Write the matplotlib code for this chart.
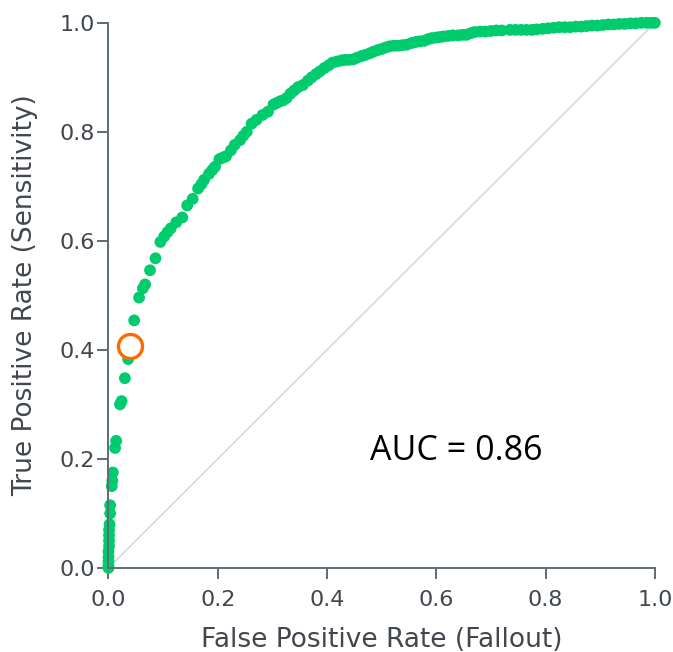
import matplotlib
matplotlib.use("Agg")
import matplotlib.pyplot as plt

# ROC curve points
fpr = [0.0, 0.0, 0.0, 0.0, 0.0, 0.001, 0.001, 0.001, 0.001, 0.002,
       0.003, 0.003, 0.006, 0.007, 0.008, 0.012, 0.014, 0.021, 0.024, 0.030, 0.036,
       0.047, 0.056, 0.063, 0.067, 0.076, 0.086, 0.095, 0.102, 0.108, 0.114, 0.124,
       0.135, 0.144, 0.154, 0.164, 0.170, 0.175, 0.184, 0.190, 0.195, 0.203, 0.210,
       0.215, 0.224, 0.231, 0.241, 0.247, 0.253, 0.262, 0.271, 0.282, 0.292, 0.302,
       0.308, 0.314, 0.320, 0.326, 0.333, 0.340, 0.347, 0.356, 0.365, 0.372, 0.380,
       0.387, 0.395, 0.403, 0.410, 0.418, 0.426, 0.433, 0.440, 0.448, 0.455, 0.463,
       0.470, 0.478, 0.485, 0.493, 0.500, 0.508, 0.515, 0.523, 0.530, 0.538, 0.546,
       0.555, 0.563, 0.570, 0.578, 0.585, 0.592, 0.600, 0.607, 0.613, 0.622, 0.630,
       0.640, 0.648, 0.655, 0.663, 0.670, 0.680, 0.690, 0.700, 0.710, 0.720, 0.735,
       0.745, 0.755, 0.765, 0.775, 0.784, 0.795, 0.805, 0.815, 0.825, 0.835, 0.845,
       0.855, 0.865, 0.875, 0.885, 0.895, 0.905, 0.915, 0.925, 0.935, 0.945, 0.955,
       0.965, 0.975, 0.985, 0.993, 1.0]
tpr = [0.0, 0.005, 0.012, 0.02, 0.03, 0.04, 0.05, 0.06, 0.07, 0.08,
       0.10, 0.115, 0.15, 0.16, 0.175, 0.22, 0.233, 0.30, 0.306, 0.348, 0.383,
       0.454, 0.496, 0.513, 0.520, 0.546, 0.568, 0.598, 0.608, 0.616, 0.623, 0.634,
       0.643, 0.665, 0.677, 0.696, 0.704, 0.712, 0.723, 0.730, 0.736, 0.750, 0.753,
       0.755, 0.766, 0.776, 0.785, 0.793, 0.800, 0.815, 0.822, 0.831, 0.837, 0.850,
       0.853, 0.856, 0.858, 0.862, 0.870, 0.876, 0.882, 0.886, 0.894, 0.900, 0.906,
       0.911, 0.917, 0.922, 0.927, 0.929, 0.931, 0.932, 0.932, 0.933, 0.936, 0.939,
       0.941, 0.944, 0.947, 0.950, 0.952, 0.955, 0.957, 0.958, 0.958, 0.959, 0.960,
       0.963, 0.965, 0.966, 0.967, 0.970, 0.972, 0.973, 0.974, 0.975, 0.976, 0.977,
       0.977, 0.978, 0.978, 0.981, 0.983, 0.984, 0.984, 0.985, 0.986, 0.986, 0.987,
       0.987, 0.987, 0.987, 0.987, 0.988, 0.989, 0.990, 0.991, 0.992, 0.992, 0.992,
       0.993, 0.993, 0.994, 0.995, 0.995, 0.996, 0.997, 0.997, 0.998, 0.998, 0.999,
       0.999, 1.0, 1.0, 1.0, 1.0]

# highlighted threshold point
sel_fpr = [0.039]
sel_tpr = [0.408]

auc_text = "AUC = 0.86"
x_label = "False Positive Rate (Fallout)"
y_label = "True Positive Rate (Sensitivity)"
ticks = [0.0, 0.2, 0.4, 0.6, 0.8, 1.0]

axis_col = "#5e6b76"
text_col = "#41474d"

fig = plt.figure(figsize=(6.73, 6.52), dpi=100)
ax = fig.add_axes([0.1612, 0.129, 0.8118, 0.836])

ax.plot([0, 1], [0, 1], color="#d3d6dc", lw=1.1, zorder=1)
ax.scatter(fpr, tpr, s=72, color="#00cc6e", edgecolors="none", zorder=2, clip_on=False)
ax.scatter(sel_fpr, sel_tpr, s=300, facecolors="white", edgecolors="#ff6a00",
           linewidths=2.4, zorder=3, clip_on=False)

ax.text(0.478, 0.215, auc_text, fontsize=24.5, family="Open Sans", color="black",
        ha="left", va="center")

ax.set_xlim(0, 1)
ax.set_ylim(0, 1)
ax.set_xticks(ticks)
ax.set_yticks(ticks)
ax.set_xticklabels([f"{t:.1f}" for t in ticks])
ax.set_yticklabels([f"{t:.1f}" for t in ticks])

for s in ["top", "right"]:
    ax.spines[s].set_visible(False)
for s in ["left", "bottom"]:
    ax.spines[s].set_color(axis_col)
    ax.spines[s].set_linewidth(1.4)

ax.tick_params(direction="out", length=8, width=1.4, color=axis_col,
               labelsize=16, labelcolor=text_col, pad=2)
ax.tick_params(axis="x", pad=8)
ax.set_xlabel(x_label, fontsize=19, color=text_col, labelpad=12)
ax.set_ylabel(y_label, fontsize=19, color=text_col, labelpad=15)

fig.savefig("out.png", dpi=100)
